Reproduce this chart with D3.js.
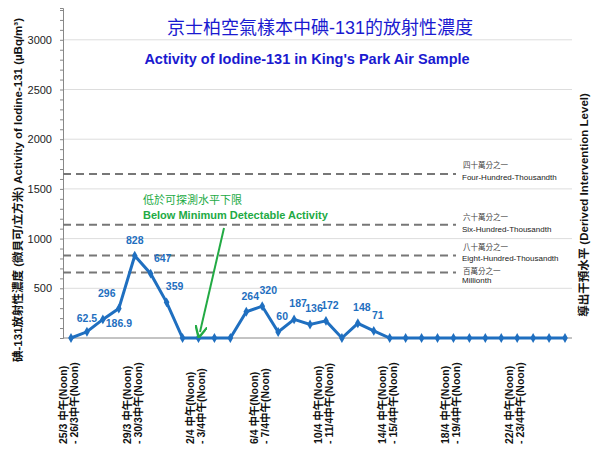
<!DOCTYPE html>
<html><head><meta charset="utf-8">
<script src="https://cdn.jsdelivr.net/npm/d3@7"></script>
<style>body{margin:0;background:#fff}text{font-family:Arial,"Liberation Sans","Noto Sans CJK TC",sans-serif}</style>
</head><body>
<svg id="c" width="600" height="467"></svg>
<script>
const dates = ["25/3","26/3","27/3","28/3","29/3","30/3","31/3","1/4","2/4","3/4","4/4","5/4","6/4","7/4","8/4","9/4","10/4","11/4","12/4","13/4","14/4","15/4","16/4","17/4","18/4","19/4","20/4","21/4","22/4","23/4","24/4","25/4"];
const values = [0,62.5,186.9,296,828,647,359,0,0,0,0,264,320,60,187,136,172,0,148,71,0,0,0,0,0,0,0,0,0,0,0,0];
const valueLabels = ["","62.5","186.9","296","828","647","359","","","","","264","320","60","187","136","172","","148","71","","","","","","","","","","","",""];
const labelDates = [["25/3 中午(Noon)","- 26/3中午(Noon)"],["29/3 中午(Noon)","- 30/3中午(Noon)"],["2/4 中午(Noon)","- 3/4中午(Noon)"],["6/4 中午(Noon)","- 7/4中午(Noon)"],["10/4 中午(Noon)","- 11/4中午(Noon)"],["14/4 中午(Noon)","- 15/4中午(Noon)"],["18/4 中午(Noon)","- 19/4中午(Noon)"],["22/4 中午(Noon)","- 23/4中午(Noon)"]];
const levelValues = [1650,1140,830,660];
const levelZh = ["四十萬分之一","六十萬分之一","八十萬分之一","百萬分之一"];
const levelEn = ["Four-Hundred-Thousandth","Six-Hundred-Thousandth","Eight-Hundred-Thousandth","Millionth"];
const yTicks = [500,1000,1500,2000,2500,3000];

const svg = d3.select("#c");
const x = d3.scaleLinear().domain([0,31]).range([71,565]);
const y = d3.scaleLinear().domain([0,3320]).range([338,8]);
const blue="#1f6fc0";

svg.append("g").selectAll("line").data(yTicks).join("line")
 .attr("x1",63).attr("x2",572).attr("y1",d=>y(d)).attr("y2",d=>y(d)).attr("stroke","#ddd");
const ya = svg.append("g").attr("transform","translate(63,0)")
 .call(d3.axisLeft(y).tickValues(d3.range(0,3301,100)).tickSize(3).tickFormat(""));
ya.selectAll("path,line").attr("stroke","#888");
svg.append("g").selectAll("text").data(yTicks).join("text")
 .attr("x",52).attr("y",d=>y(d)+4).attr("text-anchor","end").attr("font-size",11).attr("fill","#222").text(d=>d);
svg.append("line").attr("x1",63).attr("x2",572).attr("y1",y(0)).attr("y2",y(0)).attr("stroke","#888");

const zhOff=[-6,-5,-6,2], enOff=[6,7,5,11];
levelValues.forEach((v,i)=>{
  svg.append("line").attr("x1",63).attr("x2",456).attr("y1",y(v)).attr("y2",y(v))
   .attr("stroke","#777").attr("stroke-width",2).attr("stroke-dasharray","8,5");
  svg.append("text").attr("x",463).attr("y",y(v)+zhOff[i]).attr("font-size",7.5).attr("fill","#444").text(levelZh[i]);
  svg.append("text").attr("x",462).attr("y",y(v)+enOff[i]).attr("font-size",8).attr("fill","#222").text(levelEn[i]);
});

svg.append("path").datum(values).attr("fill","none").attr("stroke",blue).attr("stroke-width",3)
 .attr("d",d3.line().x((d,i)=>x(i)).y(d=>y(d)));
svg.append("g").selectAll("path").data(values).join("path")
 .attr("transform",(d,i)=>`translate(${x(i)},${y(d)})`)
 .attr("d",d3.symbol(d3.symbolDiamond,28)).attr("fill",blue);
const off = {1:[0,-10],2:[16,8],3:[-12,-12],4:[0,-12],5:[12,-12],6:[8,-12],11:[4,-12],12:[6,-12],13:[4,-12],14:[4,-12],15:[4,-12],16:[4,-12],18:[4,-12],19:[4,-12]};
svg.append("g").selectAll("text").data(values).join("text")
 .attr("x",(d,i)=>x(i)+(off[i]?off[i][0]:0)).attr("y",(d,i)=>y(d)+(off[i]?off[i][1]:0))
 .attr("text-anchor","middle").attr("font-size",10.5).attr("font-weight","bold").attr("fill",blue)
 .text((d,i)=>valueLabels[i]);

labelDates.forEach((l,k)=>{
  const xi = x(k*4);
  const g = svg.append("g").attr("transform",`translate(${xi},346) rotate(-90)`);
  g.append("text").attr("x",-98).attr("y",-4).attr("font-size",10.5).attr("font-weight","bold").attr("fill","#111").text(l[0]);
  g.append("text").attr("x",-98).attr("y",7).attr("font-size",10.5).attr("font-weight","bold").attr("fill","#111").text(l[1]);
});

svg.append("text").attr("x",320).attr("y",34).attr("text-anchor","middle").attr("font-size",18).attr("fill","#1a1ad0").text("京士柏空氣樣本中碘-131的放射性濃度");
svg.append("text").attr("x",307).attr("y",64).attr("text-anchor","middle").attr("font-size",14.5).attr("font-weight","bold").attr("fill","#1a1ad0").text("Activity of Iodine-131 in King's Park Air Sample");

svg.append("text").attr("x",143).attr("y",204).attr("font-size",11).attr("fill","#22aa44").text("低於可探測水平下限");
svg.append("text").attr("x",143).attr("y",219).attr("font-size",11).attr("font-weight","bold").attr("fill","#22aa44").text("Below  Minimum Detectable Activity");
svg.append("defs").append("marker").attr("id","ar").attr("viewBox","0 0 10 10").attr("refX",5).attr("refY",5)
 .attr("markerWidth",6).attr("markerHeight",6).attr("orient","auto-start-reverse")
 .append("path").attr("d","M0,0 L10,5 L0,10").attr("fill","none").attr("stroke","#22aa44").attr("stroke-width",2);
svg.append("line").attr("x1",224).attr("y1",228).attr("x2",200).attr("y2",332).attr("stroke","#22aa44").attr("stroke-width",2).attr("marker-end","url(#ar)");

svg.append("text").attr("transform","translate(22,190) rotate(-90)").attr("text-anchor","middle").attr("font-size",11.5).attr("font-weight","bold").attr("fill","#111")
 .text("碘-131放射性濃度 (微貝可/立方米)  Activity of Iodine-131 (µBq/m³)");
svg.append("text").attr("transform","translate(588,205) rotate(-90)").attr("text-anchor","middle").attr("font-size",11.5).attr("font-weight","bold").attr("fill","#111")
 .text("導出干預水平 (Derived Intervention Level)");
</script></body></html>
